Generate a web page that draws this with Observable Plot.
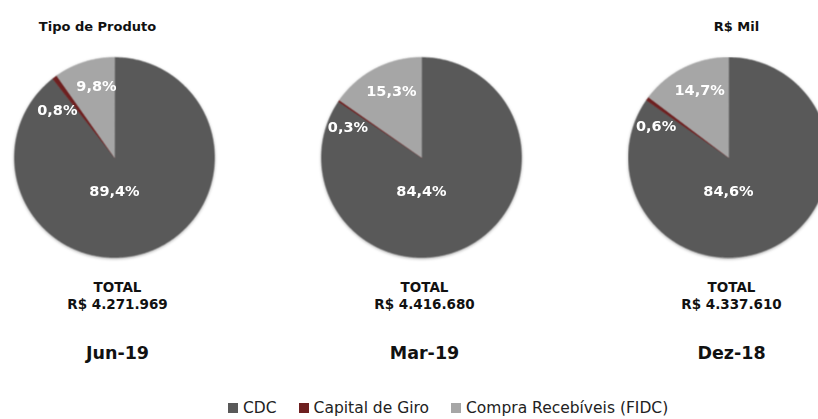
<!DOCTYPE html>
<html>
<head>
<meta charset="utf-8">
<script src="https://cdn.jsdelivr.net/npm/d3@7"></script>
<script src="https://cdn.jsdelivr.net/npm/@observablehq/plot@0.6"></script>
<style>
  body { margin: 0; background: #fff; }
  #chart { width: 818px; height: 419px; overflow: hidden; position: relative; background: #fff; }
  #chart svg.main { max-width: none !important; height: 390px !important; display: block; }
  .lg-swatches { font-family: "DejaVu Sans", sans-serif; font-size: 15.5px; color: #222; margin: 9px 0 0 228px; min-height: 0; justify-content: flex-start; flex-wrap: nowrap; white-space: nowrap; }
  .lg-swatches .lg-swatch { margin-right: 22px; }
  .lg-swatch > svg { margin-right: 5px; }
</style>
</head>
<body>
<div id="chart"></div>
<script>
// ---- data ----
const periods = ["Jun-19", "Mar-19", "Dez-18"];
const products = ["CDC", "Capital de Giro", "Compra Recebíveis (FIDC)"];
const cdc = [89.4, 84.4, 84.6];
const capitalGiro = [0.8, 0.3, 0.6];
const compraRecebiveis = [9.8, 15.3, 14.7];
const totals = [4271969, 4416680, 4337610];
const titleLeft = "Tipo de Produto";
const titleRight = "R$ Mil";
const totalLabel = "TOTAL";

// ---- styles ----
const colors = ["#595959", "#6e2020", "#a6a6a6"];
const FONT = "DejaVu Sans";

const locale = d3.formatLocale({decimal: ",", thousands: ".", grouping: [3], currency: ["R$ ", ""]});
const fmtPct = v => locale.format(".1f")(v) + "%";
const fmtTotal = v => "R$ " + locale.format(",d")(v);

const series = [cdc, capitalGiro, compraRecebiveis];
const pie = d3.pie().sort(null).value(d => d.value);

const slices = [];
const labels = [];
periods.forEach((period, i) => {
  const vals = products.map((product, j) => ({product, value: series[j][i]}));
  pie(vals).forEach(a => {
    const key = period + "|" + a.data.product;
    slices.push({period, product: a.data.product, key, x: 0, y: 0});
    const n = Math.max(2, Math.ceil((a.endAngle - a.startAngle) / 0.01));
    for (let k = 0; k <= n; k++) {
      const t = a.startAngle + (a.endAngle - a.startAngle) * k / n;
      slices.push({period, product: a.data.product, key, x: Math.sin(t), y: Math.cos(t)});
    }
    const mid = (a.startAngle + a.endAngle) / 2;
    labels.push({period, product: a.data.product, text: fmtPct(a.data.value), mid});
  });
});

const cdcLabels = labels.filter(d => d.product === products[0]).map(d => ({...d, x: 0, y: -0.34}));
const capLabels = labels.filter(d => d.product === products[1]).map(d => ({...d, x: 0.72 * Math.sin(d.mid), y: 0.72 * Math.cos(d.mid)}));
const compraLabels = labels.filter(d => d.product === products[2]).map(d => ({...d, x: 0.76 * Math.sin(d.mid), y: 0.76 * Math.cos(d.mid)}));

const totalRows = periods.map((period, i) => ({period, total: fmtTotal(totals[i])}));
const titles = [{period: periods[0], text: titleLeft, dx: -17}, {period: periods[2], text: titleRight, dx: 8}];

const labelStyle = {fx: "period", x: "x", y: "y", text: "text", fill: "white", fontWeight: "bold", fontSize: 14.5, fontFamily: FONT};
const darkText = {fill: "#111", fontWeight: "bold", fontFamily: FONT};

const chart = Plot.plot({
  width: 840,
  height: 390,
  marginLeft: 13,
  marginRight: 12,
  marginTop: 0,
  marginBottom: 0,
  className: "main",
  fx: {domain: periods, paddingInner: 0.35, paddingOuter: 0, axis: null},
  x: {domain: [-1, 1], axis: null},
  y: {domain: [-2.33, 1.57], axis: null},
  color: {domain: products, range: colors},
  style: {fontFamily: FONT, background: "white", overflow: "visible", maxWidth: "none"},
  marks: [
    Plot.line(slices, {fx: "period", x: "x", y: "y", z: "key", fill: "product", stroke: "product", strokeWidth: 0.5, curve: "linear-closed"}),
    Plot.text(cdcLabels, labelStyle),
    Plot.text(capLabels, {...labelStyle, textAnchor: "end", lineAnchor: "top", dx: 6, dy: 5}),
    Plot.text(compraLabels, {...labelStyle, dx: 5, dy: 1}),
    Plot.text(titles.slice(0, 1), {fx: "period", frameAnchor: "top", dy: 21, dx: titles[0].dx, text: "text", fontSize: 13, ...darkText}),
    Plot.text(titles.slice(1), {fx: "period", frameAnchor: "top", dy: 21, dx: titles[1].dx, text: "text", fontSize: 13, ...darkText}),
    Plot.text(totalRows, {fx: "period", x: 0, y: -1.30, dx: 3, text: () => totalLabel, fontSize: 13.5, ...darkText}),
    Plot.text(totalRows, {fx: "period", x: 0, y: -1.47, dx: 3, text: "total", fontSize: 13.5, ...darkText}),
    Plot.text(totalRows, {fx: "period", x: 0, y: -1.96, dx: 3, text: "period", fontSize: 17.5, ...darkText})
  ]
});

chart.querySelectorAll('g[aria-label="line"]').forEach(g => {
  g.style.filter = "drop-shadow(0px 1px 1.5px rgba(0,0,0,0.35))";
});

const legend = Plot.legend({
  color: {domain: products, range: colors},
  legend: "swatches",
  swatchSize: 10,
  className: "lg"
});

const root = document.getElementById("chart");
root.appendChild(chart);
root.appendChild(legend);
</script>
</body>
</html>
